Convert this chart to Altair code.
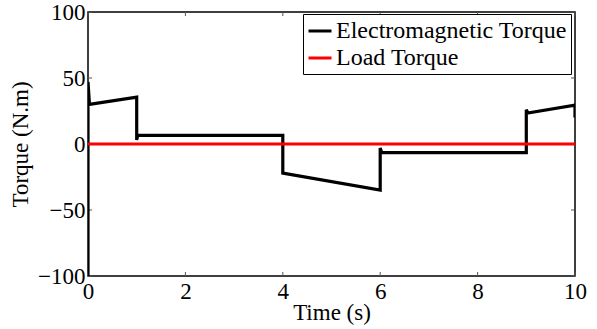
import altair as alt
import pandas as pd

em_time = [0, 0, 0.03, 1.0, 1.0, 1.02, 4.0, 4.0, 6.0, 6.0, 6.03, 9.0, 9.0, 9.03, 10.0, 10.0]
em_torque = [-100, 47, 30, 35.5, 3, 6.5, 6.5, -22, -35, -3, -6.5, -6.5, 26, 23.5, 29.5, 20]
load_time = [0, 10]
load_torque = [0, 0]
x_ticks = [0, 2, 4, 6, 8, 10]
y_ticks = [-100, -50, 0, 50, 100]

series = ["Electromagnetic Torque", "Load Torque"]

rows = []
for i, (t, v) in enumerate(zip(em_time, em_torque)):
    rows.append({"t": t, "v": v, "s": series[0], "o": i})
for i, (t, v) in enumerate(zip(load_time, load_torque)):
    rows.append({"t": t, "v": v, "s": series[1], "o": i})
df = pd.DataFrame(rows)

W, H = 487, 264
FONT = "Liberation Serif, Times New Roman, serif"

xs = alt.Scale(domain=[0, 10], nice=False)
ys = alt.Scale(domain=[-100, 100], nice=False)

lines = alt.Chart(df).mark_line(strokeWidth=3.2, clip=True).encode(
    x=alt.X("t:Q", scale=xs, title="Time (s)",
            axis=alt.Axis(values=x_ticks, tickSize=0, labelPadding=4, titlePadding=-2,
                          grid=False, domain=False, labelFlush=False)),
    y=alt.Y("v:Q", scale=ys, title="Torque (N.m)",
            axis=alt.Axis(values=y_ticks, tickSize=0, labelPadding=3, titlePadding=5,
                          grid=False, domain=False, labelFlush=False)),
    color=alt.Color("s:N", scale=alt.Scale(domain=series, range=["#000000", "#ff0000"]),
                    legend=alt.Legend(title=None, orient="none", legendX=215, legendY=2,
                                      symbolType="stroke", symbolSize=529,
                                      symbolStrokeWidth=3, strokeColor="black",
                                      fillColor="white", padding=4, labelFontSize=24,
                                      labelFont=FONT, labelLimit=400, labelOffset=3,
                                      rowPadding=2, labelColor="black")),
    order="o:Q",
    detail="s:N",
)

xt = pd.DataFrame({"x": x_ticks})
yt = pd.DataFrame({"y": y_ticks})
tick_bottom = alt.Chart(xt).mark_rule(color="#555", strokeWidth=1).encode(
    x=alt.X("x:Q", scale=xs), y=alt.value(H), y2=alt.value(H - 4))
tick_top = alt.Chart(xt).mark_rule(color="#555", strokeWidth=1).encode(
    x=alt.X("x:Q", scale=xs), y=alt.value(0), y2=alt.value(4))
tick_left = alt.Chart(yt).mark_rule(color="#555", strokeWidth=1).encode(
    y=alt.Y("y:Q", scale=ys), x=alt.value(0), x2=alt.value(4))
tick_right = alt.Chart(yt).mark_rule(color="#555", strokeWidth=1).encode(
    y=alt.Y("y:Q", scale=ys), x=alt.value(W), x2=alt.value(W - 4))

chart = alt.layer(tick_bottom, tick_top, tick_left, tick_right, lines).properties(
    width=W, height=H,
    autosize=alt.AutoSizeParams(type="none"),
    padding={"left": 88, "top": 12, "right": 22, "bottom": 53},
    background="white",
).configure_view(
    stroke="black", strokeWidth=1.5
).configure_axis(
    labelFont=FONT, titleFont=FONT, labelFontSize=23, titleFontSize=23,
    labelColor="black", titleColor="black", titleFontWeight="normal",
)

chart.save("out.html", embed_options={"renderer": "svg", "actions": False})
